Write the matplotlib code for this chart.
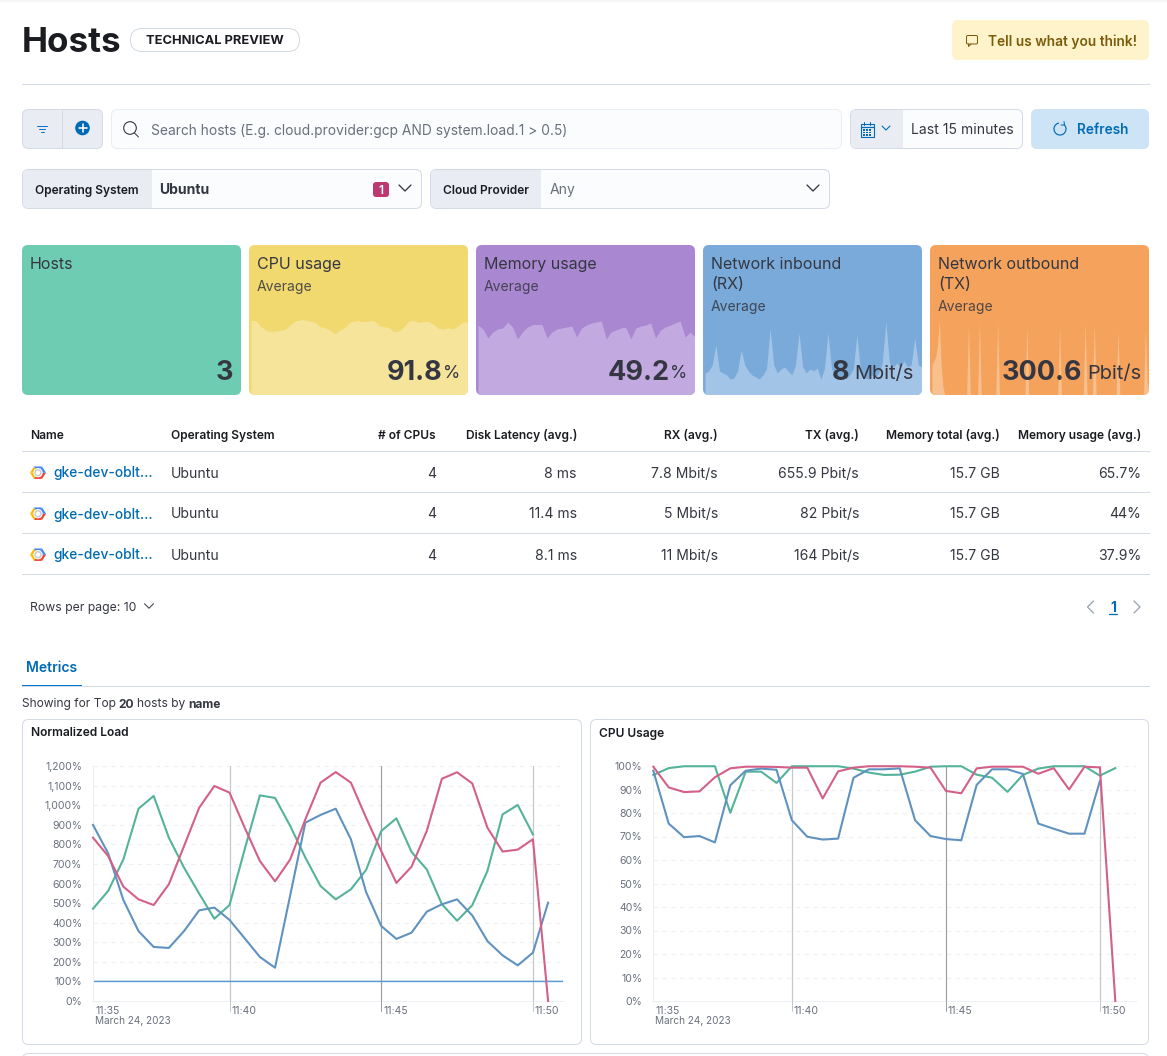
#!/usr/bin/env python3

import matplotlib
matplotlib.use("Agg")
import matplotlib.pyplot as plt
from matplotlib.patches import Arc, Circle, FancyBboxPatch, Polygon, Rectangle
import numpy as np

W, H = 1167, 1056

plt.rcParams["font.family"] = ["Inter", "DejaVu Sans"]

# Line charts, one sample every 30 s from 11:35:30
load_blue = [899, 754, 516, 357, 276, 271, 357, 463, 477, 414, 320, 225, 170, 540, 911, 950, 982, 826,
             557, 383, 317, 349, 456, 494, 519, 437, 306, 233, 182, 247, 502]
load_green = [471, 562, 723, 982, 1047, 834, 681, 548, 420, 490, 775, 1050, 1037, 894, 732, 587, 519, 570,
              669, 868, 933, 761, 672, 494, 410, 489, 664, 953, 1001, 851]
load_pink = [834, 740, 584, 519, 490, 596, 791, 987, 1098, 1064, 885, 715, 611, 723, 928, 1115, 1169, 1115,
             936, 766, 603, 686, 868, 1135, 1168, 1111, 885, 763, 773, 826, 0]
load_threshold = 100
load_ticks = [0, 100, 200, 300, 400, 500, 600, 700, 800, 900, 1000, 1100, 1200]

cpu_blue = [98, 75.5, 69.7, 70.2, 67.5, 91.8, 98, 98.9, 98.4, 76.9, 69.9, 68.7, 69.1, 95, 98.6, 98.6, 99,
            76.9, 70.2, 68.9, 68.4, 92, 98.6, 98.6, 96.6, 75.5, 73.3, 71.2, 71.2, 93.6]
cpu_green = [96.2, 99.1, 99.9, 99.9, 99.9, 80.1, 97.6, 97.6, 92.8, 99.9, 99.9, 99.9, 99.9, 98.9, 97.2, 96.2,
             96.3, 97.6, 99.7, 99.9, 99.9, 96.3, 95, 89, 96.2, 98.9, 99.9, 99.9, 99.9, 95.9, 99.1]
cpu_pink = [99.7, 90.9, 88.9, 89.2, 95.2, 99, 99.7, 99.7, 99.6, 99.3, 99.3, 86.2, 97.7, 99.3, 99.9, 99.9, 99.9,
            99.7, 99.3, 89.4, 88.4, 99, 99.7, 99.7, 99.7, 96.7, 99.1, 90, 99.7, 99.4, 0]
cpu_ticks = [0, 10, 20, 30, 40, 50, 60, 70, 80, 90, 100]

time_ticks = [9, 19, 29]
time_labels = ["11:40", "11:45", "11:50"]
time_colors = ["#c4c7cc", "#9a9da3", "#c4c7cc"]

# KPI cards: sparkline height inside each card
spark_cpu = [74, 74, 68.3, 65, 63.3, 64, 64.7, 66, 70, 74.3, 74.7, 74.7, 74, 72.7, 68.3, 67.3, 65, 61, 65, 67.3,
             72.7, 74, 74, 73.3, 74, 74, 69.3, 68.3, 67.3, 63.3, 64, 68.3, 74, 74.7, 72.7, 73.3, 73.3, 70.7, 66.7,
             66, 67.3, 66, 69.3, 73.3, 72.7]
spark_mem = [70, 66, 57, 63, 66, 67, 73, 68, 56, 63, 68, 70, 70, 70, 57, 63, 66, 67, 68, 69, 58, 67, 70, 72, 73,
             74, 56, 63, 65, 67, 67, 56, 67, 69, 70, 72, 57, 65, 68, 70, 72, 74, 58, 63, 58]
spark_rx = [22, 24, 30, 50, 24, 22, 20, 16, 17, 24, 45, 30, 24, 20, 18, 16, 20, 26, 66, 30, 22, 26, 28, 24, 20,
            30, 62, 28, 22, 26, 24, 27, 16, 26, 62, 26, 18, 16, 20, 16, 20, 26, 60, 24, 18, 16, 20, 18, 22, 32,
            73, 32, 28, 32, 28, 34, 28, 30, 57, 30, 28]
spark_tx = [30, 34, 38, 50, 75, 30, 8, 0, 0, 0, 0, 0, 0, 0, 0, 0, 0, 0, 0, 0, 70, 0, 0, 0, 0, 0, 73, 0, 0, 0, 0,
            0, 0, 0, 0, 0, 73, 0, 0, 0, 0, 0, 0, 0, 0, 0, 0, 0, 0, 0, 0, 0, 68, 0, 0, 0, 0, 0, 0, 0, 0, 0, 0, 0,
            0, 0, 0, 0, 0, 0, 68, 0, 0, 0, 0, 0, 0, 0, 0, 0, 0, 0, 0, 0, 73, 0, 0, 0, 0, 71, 0, 0, 0, 0, 0, 0, 0,
            0, 0, 0, 0, 0, 64, 0, 0, 0, 0, 0, 0, 0, 0, 0, 0, 0, 0, 0, 0, 66, 12, 4]

# Hosts table
table_headers = ["Name", "Operating System", "# of CPUs", "Disk Latency (avg.)", "RX (avg.)", "TX (avg.)",
                 "Memory total (avg.)", "Memory usage (avg.)"]
host_names = ["gke-dev-oblt...", "gke-dev-oblt...", "gke-dev-oblt..."]
host_os = ["Ubuntu", "Ubuntu", "Ubuntu"]
host_cpus = ["4", "4", "4"]
host_latency = ["8 ms", "11.4 ms", "8.1 ms"]
host_rx = ["7.8 Mbit/s", "5 Mbit/s", "11 Mbit/s"]
host_tx = ["655.9 Pbit/s", "82 Pbit/s", "164 Pbit/s"]
host_mem_total = ["15.7 GB", "15.7 GB", "15.7 GB"]
host_mem_usage = ["65.7%", "44%", "37.9%"]

BORDER = "#d3dae6"
GREY_BG = "#e9edf3"
FIELD_BG = "#fbfcfd"
INK = "#343741"
DARK = "#1a1c21"
LINK = "#006bb4"
TICK = "#69707d"
GREEN, BLUE, PINK = "#54b399", "#6092c0", "#d36086"

fig = plt.figure(figsize=(W / 100, H / 100), dpi=100, facecolor="white")


def pixel_axes(zorder):
    ax = fig.add_axes([0, 0, 1, 1], zorder=zorder)
    ax.set_xlim(0, W)
    ax.set_ylim(H, 0)
    ax.axis("off")
    ax.patch.set_alpha(0)
    return ax


def px_axes(x0, y0, x1, y1, zorder):
    return fig.add_axes([x0 / W, 1 - y1 / H, (x1 - x0) / W, (y1 - y0) / H], zorder=zorder)


back = pixel_axes(0)
fg = pixel_axes(5)


def box(x0, y0, x1, y1, fc="white", ec="none", r=6, lw=1.0, ax=back):
    p = FancyBboxPatch((x0, y0), x1 - x0, y1 - y0, boxstyle=f"round,pad=0,rounding_size={r}",
                       fc=fc, ec=ec, lw=lw * 0.72)
    ax.add_patch(p)
    return p


def txt(x, y, s, px=14, color=INK, weight="normal", ha="left", **kw):
    return fg.text(x, y, s, fontsize=px * 0.72, color=color, fontweight=weight, ha=ha, va="center_baseline", **kw)


def seg(xs, ys, color=INK, lw=1.0, ax=fg):
    ax.plot(xs, ys, color=color, lw=lw * 0.72, solid_capstyle="round", solid_joinstyle="round")


def chevron(x, y, color=INK, size=5, lw=1.3):
    seg([x - size, x, x + size], [y - size / 2, y + size / 2, y - size / 2], color, lw)


# top shadow and page header
for i, shade in enumerate(["#f3f4f6", "#f7f8f9", "#fbfbfc"]):
    back.add_patch(Rectangle((0, i), W, 1, fc=shade, ec="none"))

txt(22, 40, "Hosts", 35, DARK, "bold")
box(130.5, 28.5, 299.5, 51.5, "white", BORDER, r=11.5)
txt(215, 40, "TECHNICAL PREVIEW", 12.9, DARK, "bold", ha="center")
box(952, 20, 1149, 60, "#fff3cc", r=6)
txt(988, 40, "Tell us what you think!", 13.75, "#7a5d0a", 600)
box(966.5, 35.5, 977.5, 44, "none", "#7a5d0a", r=1.5, ax=fg)
seg([968.5, 968.5, 971], [44, 46.5, 44], "#7a5d0a")
back.plot([22, 1149], [84, 84], color=BORDER, lw=0.72)

# query bar
box(22.5, 109.5, 102.5, 148.5, GREY_BG, BORDER)
back.plot([62, 62], [110, 148], color=BORDER, lw=0.72)
for dy, half in [(-3, 5), (0, 3), (3, 1.5)]:
    seg([42 - half, 42 + half], [129 + dy, 129 + dy], "#0077cc")
fg.add_patch(Circle((82.5, 128), 7.3, fc=LINK, ec="none"))
seg([78.5, 86.5], [128, 128], "white", 1.6)
seg([82.5, 82.5], [124, 132], "white", 1.6)

box(111.5, 109.5, 841.5, 148.5, FIELD_BG, GREY_BG)
fg.add_patch(Circle((130, 128), 6.3, fc="none", ec=INK, lw=0.8))
seg([134.5, 138.5], [133, 137], INK)
txt(151, 129.5, "Search hosts (E.g. cloud.provider:gcp AND system.load.1 > 0.5)", 13.8, "#69707d")

box(850.5, 109.5, 1022.5, 148.5, FIELD_BG, BORDER)
box(851, 110, 903, 148, GREY_BG, r=5)
back.add_patch(Rectangle((880, 110), 23, 38, fc=GREY_BG, ec="none"))
fg.add_patch(Rectangle((860.5, 124), 13, 12.5, fc="none", ec=LINK, lw=0.8))
seg([860.5, 873.5], [127, 127], LINK, 1.2)
seg([864, 864], [122, 125], LINK)
seg([870, 870], [122, 125], LINK)
for gx in [864, 867, 870]:
    for gy in [130, 132.5, 135]:
        fg.add_patch(Rectangle((gx - 0.6, gy - 0.6), 1.2, 1.2, fc=LINK, ec="none"))
chevron(886, 128, LINK, 4, 1.1)
txt(911, 129, "Last 15 minutes", 14, INK)

box(1031, 109, 1149, 149, "#cce4f5", r=6)
fg.add_patch(Arc((1060, 129), 12, 12, theta1=-50, theta2=260, ec=LINK, lw=0.85))
seg([1064, 1064.5, 1061], [121.5, 125, 125], LINK)
txt(1076.5, 129, "Refresh", 13.6, LINK, 600)

# control selects
box(22.5, 169.5, 421.5, 208.5, FIELD_BG, BORDER)
box(23, 170, 152, 208, GREY_BG, r=5)
back.add_patch(Rectangle((130, 170), 22, 38, fc=GREY_BG, ec="none"))
txt(35, 189.5, "Operating System", 12, DARK, 600)
txt(159, 189, "Ubuntu", 14, INK, "bold")
box(373, 182, 389, 197, "#bd3a70", r=3)
txt(381, 189.5, "1", 12, "white", 600, ha="center")
chevron(405, 188, INK, 6, 1.3)

box(430.5, 169.5, 829.5, 208.5, FIELD_BG, BORDER)
box(431, 170, 541, 208, GREY_BG, r=5)
back.add_patch(Rectangle((520, 170), 21, 38, fc=GREY_BG, ec="none"))
txt(443, 189.5, "Cloud Provider", 12, DARK, 600)
txt(549.5, 188.5, "Any", 14, TICK)
chevron(813, 188, INK, 6, 1.3)

# KPI cards
card_x = [22, 249, 476, 703, 930]
card_w = 219
card_top, card_bottom = 245, 395
card_colors = ["#6dccb1", "#f1d86f", "#a987d1", "#79aad9", "#f5a35c"]
card_fills = [None, "#f6e49b", "#c2aae0", "#a2c4e6", "#f8c08e"]
card_titles = [["Hosts"], ["CPU usage"], ["Memory usage"], ["Network inbound", "(RX)"], ["Network outbound", "(TX)"]]
card_sparks = [None, spark_cpu, spark_mem, spark_rx, spark_tx]
card_values = ["3", "91.8", "49.2", "8", "300.6"]
card_units = ["", "%", "%", "Mbit/s", "Pbit/s"]
value_right = [233, 443, 670, 849, 1082]

for x0, col, light, lines, spark, value, unit, vr in zip(card_x, card_colors, card_fills, card_titles, card_sparks,
                                                         card_values, card_units, value_right):
    card = box(x0, card_top, x0 + card_w, card_bottom, col, r=6)
    if spark is not None:
        sp = px_axes(x0 + 2, card_top, x0 + card_w, card_bottom, 1)
        sp.axis("off")
        sp.patch.set_alpha(0)
        sp.set_ylim(0, 150)
        sp.set_xlim(0, len(spark) - 1)
        area = sp.fill_between(range(len(spark)), spark, 0, color=light, lw=0)
        area.set_clip_path(card)
    for i, line in enumerate(lines):
        txt(x0 + 8, 263 + 20 * i, line, 16, INK)
    if spark is not None:
        txt(x0 + 8, 286 + 20 * (len(lines) - 1), "Average", 14, INK, alpha=0.85)
    if unit:
        txt(x0 + card_w - 8, 372, unit, 17.5 if unit == "%" else 20, INK, ha="right")
    txt(vr, 370, value, 27, INK, "bold", ha="right")

# hosts table
col_x = [30, 171, 436, 577, 718, 859, 1000, 1141]
col_ha = ["left", "left", "right", "right", "right", "right", "right", "right"]
for x, ha, head in zip(col_x, col_ha, table_headers):
    txt(x, 434.5, head, 12, DARK, 600, ha=ha)
for y in [451, 492, 533, 574]:
    back.plot([22, 1149], [y, y], color=BORDER, lw=0.72)

row_y = [472, 513, 554]
columns = [host_os, host_cpus, host_latency, host_rx, host_tx, host_mem_total, host_mem_usage]
hex_colors = ["#ea4335", "#ea4335", "#fbbc05", "#fbbc05", "#4285f4", "#4285f4"]
for r, y in enumerate(row_y):
    angles = np.radians(np.arange(-30, 331, 60) + 30)
    verts = [(38 + 8 * np.cos(a), y + 0.7 + 7.2 * np.sin(a)) for a in angles]
    for k in range(6):
        fg.add_patch(Polygon([(38, y + 0.7), verts[k], verts[k + 1]], fc=hex_colors[k], ec="none"))
    fg.add_patch(Circle((38, y + 0.7), 4.2, fc="#c9cbd1", ec="white", lw=0.7))
    fg.add_patch(Circle((38, y + 0.7), 2.2, fc="white", ec="none"))
    txt(53.5, y, host_names[r], 13.8, LINK, 500)
    for x, ha, col in zip(col_x[1:], col_ha[1:], columns):
        txt(x, y, col[r], 14, INK, ha=ha)

txt(30, 607, "Rows per page: 10", 12.2, INK)
chevron(149, 606, INK, 4.5, 1.0)
seg([1093.5, 1087.5, 1093.5], [601, 607, 613], "#98a2b3", 1.3)
seg([1134, 1140, 1134], [601, 607, 613], "#98a2b3", 1.3)
txt(1113, 607, "1", 14, LINK, "bold", ha="center")
seg([1109, 1117], [613.5, 613.5], LINK, 1.3)

# metrics tab
txt(26, 667, "Metrics", 14, LINK, 600)
back.plot([22, 1149], [686, 686], color=BORDER, lw=0.72)
back.add_patch(Rectangle((22, 685), 60, 2, fc="#0077cc", ec="none"))
txt(22, 703, "Showing for Top", 12, INK)
txt(118, 703, "20", 12, INK, "bold")
txt(137, 703, "hosts by", 12, INK)
txt(188, 703, "name", 12, INK, "bold")

# chart panels
box(22.5, 719.5, 581.5, 1044.5, "white", BORDER)
box(590.5, 719.5, 1148.5, 1044.5, "white", BORDER)
box(22.5, 1053.5, 1148.5, 1080, "white", BORDER)
txt(31, 732, "Normalized Load", 12, DARK, 600)
txt(599, 732, "CPU Usage", 12, DARK, 600)


def line_chart(rect, step_px, x_start, ymax, ticks, series, tick_fmt):
    x0, y0, x1, y1 = rect
    ax = px_axes(x0, y0, x1, y1, 2)
    ax.patch.set_alpha(0)
    ax.set_xlim(0, (x1 - x_start) / step_px)
    ax.set_ylim(0, ymax)
    ax.set_yticks(ticks, [tick_fmt(v) for v in ticks])
    ax.set_xticks([])
    ax.tick_params(axis="y", length=0, pad=7.8, labelsize=10.5 * 0.72, labelcolor=TICK)
    for side in ["top", "right"]:
        ax.spines[side].set_visible(False)
    for side in ["left", "bottom"]:
        ax.spines[side].set_color("#eceff4")
        ax.spines[side].set_linewidth(0.72)
    for v in ticks[1:]:
        ax.axhline(v, color="#eef0f4", lw=0.8, dashes=(4, 4), zorder=1, clip_on=False)
    for t, label, color in zip(time_ticks, time_labels, time_colors):
        ax.plot([t, t], [0, ymax], color=color, lw=0.85, zorder=1.5)
        xpx = x_start + t * step_px
        seg([xpx, xpx], [y1, y1 + 10], color, 1.0)
        txt(xpx + 2, y1 + 9.5, label, 10.5, TICK)
    txt(x_start + 2, y1 + 9.5, "11:35", 10.5, TICK)
    txt(x_start + 2, y1 + 19.5, "March 24, 2023", 10, TICK)
    for values, color in series:
        ax.plot(range(len(values)), values, color=color, lw=1.5, solid_joinstyle="round", zorder=3, clip_on=False)
    return ax


load_ax = line_chart((93, 766, 563, 1001), 15.17, 93, 1200, load_ticks,
                     [(load_green, GREEN), (load_blue, BLUE), (load_pink, PINK)],
                     lambda v: f"{v:,}%")
load_ax.plot([0, 31], [load_threshold, load_threshold], color="#5b9bd5", lw=1.1, zorder=2.5, snap=False)

line_chart((653.3, 766, 1136, 1001), 15.4, 653.3, 100, cpu_ticks,
           [(cpu_green, GREEN), (cpu_blue, BLUE), (cpu_pink, PINK)],
           lambda v: f"{v}%")

fig.savefig("out.png", dpi=100)
